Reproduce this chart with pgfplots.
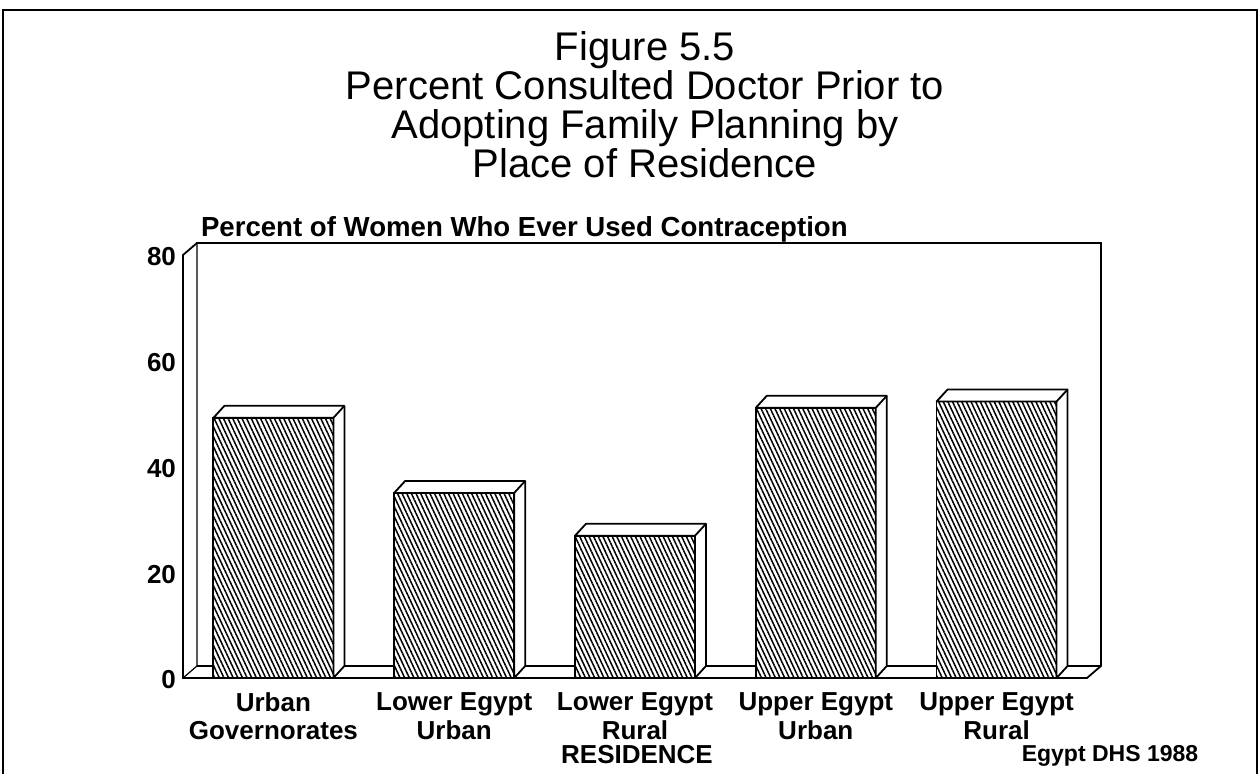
\documentclass[border=0pt]{standalone}
\usepackage{fontspec}
\setmainfont{Liberation Sans}
\usepackage{pgfplots}
\usepackage{pgfplotstable}
\pgfplotsset{compat=1.18}
\usetikzlibrary{patterns.meta}
\pgfdeclareplotmark{empty}{}

% percent consulted doctor, by residence
\pgfplotstableread{
x  pct
0  49.2
1  35.0
2  26.9
3  51.1
4  52.3
}\residence

\def\yunit{2.64375} % pt per percent (211.5pt / 80)

\begin{document}
\begin{tikzpicture}
\useasboundingbox (0,0) rectangle (630pt,387pt);
\draw[line width=1pt] (1.5pt,0) -- (1.5pt,382pt) -- (628.5pt,382pt) -- (628.5pt,0);

\node[align=center, font=\fontsize{20}{19.5}\selectfont] at (322.5pt,334.5pt)
  {Figure 5.5\\Percent Consulted Doctor Prior to\\Adopting Family Planning by\\Place of Residence};
\node[anchor=west, font=\bfseries\fontsize{13.8}{13.8}\selectfont] at (97pt,272.5pt)
  {Percent of Women Who Ever Used Contraception};
\node[font=\bfseries\fontsize{13}{13}\selectfont] at (318.5pt,9.5pt) {RESIDENCE};
\node[font=\bfseries\fontsize{11.5}{11.5}\selectfont] at (555pt,9pt) {Egypt DHS 1988};

\begin{axis}[
  at={(91.5pt,48pt)}, anchor=south west,
  scale only axis, width=452pt, height=211.5pt,
  xmin=-0.5, xmax=4.5, ymin=0, ymax=80,
  axis lines*=left, axis line style={draw=none},
  major tick length=0pt,
  ytick={0,20,40,60,80},
  xtick={0,...,4},
  xticklabels={\strut Urban\\\strut Governorates, \strut Lower Egypt\\\strut Urban,
    \strut Lower Egypt\\\strut Rural, \strut Upper Egypt\\\strut Urban, \strut Upper Egypt\\\strut Rural},
  xticklabel style={align=center, anchor=north, yshift=-4pt, font=\bfseries\fontsize{13}{12.5}\selectfont},
  yticklabel style={yshift=-1pt, font=\bfseries\fontsize{13}{13}\selectfont},
  /pgf/number format/assume math mode=true,
  clip=false,
]
% walls and floor
\draw[line width=0.9pt] (axis cs:-0.5,0) -- (axis cs:-0.5,80) -- ++(7pt,6pt)
  -- ([shift={(7pt,6pt)}]axis cs:4.5,80) -- ([shift={(7pt,6pt)}]axis cs:4.5,0)
  -- (axis cs:4.5,0) -- cycle;
\draw[line width=0.6pt] ([shift={(7pt,6pt)}]axis cs:-0.5,80) -- ([shift={(7pt,6pt)}]axis cs:-0.5,0)
  -- (axis cs:-0.5,0);
\draw[line width=0.6pt] ([shift={(7pt,6pt)}]axis cs:-0.5,0) -- ([shift={(7pt,6pt)}]axis cs:4.5,0);

% front faces
\addplot[ybar, bar width=60pt, draw=black, line width=0.9pt, fill=white,
  postaction={pattern={Lines[angle=-65,distance=2.1pt,line width=0.75pt]}}]
  table[x=x, y=pct] {\residence};

% tops and sides
\addplot[only marks, mark=empty, scatter,
  visualization depends on={rawy \as \barh},
  scatter/@pre marker code/.code={%
    \pgfmathsetmacro\hn{-\barh*\yunit}%
    \pgfmathsetmacro\hb{6-\barh*\yunit}%
    \draw[line width=0.9pt, line join=round, fill=white]
      (-30pt,0pt) -- (-24.5pt,6pt) -- (35.5pt,6pt) -- (35.5pt,\hb pt)
      -- (30pt,\hn pt) -- (30pt,0pt) -- cycle;
    \draw[line width=0.9pt] (30pt,0pt) -- (35.5pt,6pt);
  },
  scatter/@post marker code/.code={},
] table[x=x, y=pct] {\residence};
\end{axis}
\end{tikzpicture}
\end{document}
